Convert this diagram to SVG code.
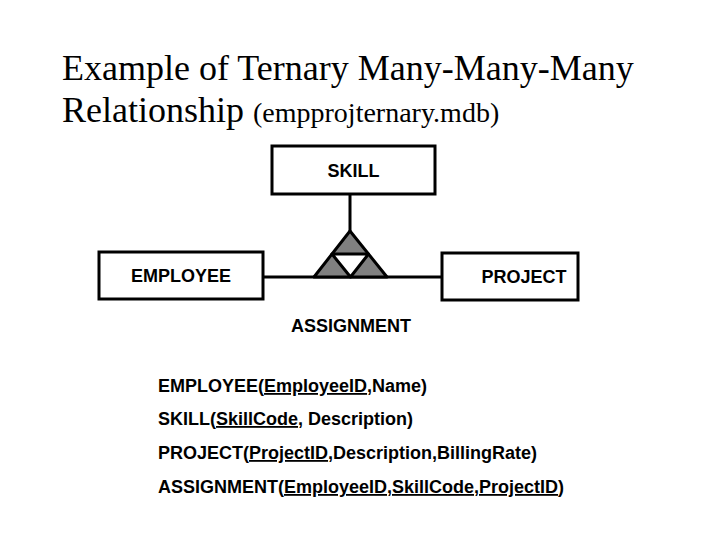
<svg xmlns="http://www.w3.org/2000/svg" width="720" height="540" viewBox="0 0 720 540">
<style>
.box{fill:#fff;stroke:#000;stroke-width:3}
.lbl{font-family:"Liberation Sans",Arial,sans-serif;font-weight:bold;font-size:18px;fill:#000}
.title{font-family:"Liberation Serif","Times New Roman",serif;fill:#000}
.ln{stroke:#000;stroke-width:3;fill:none}
.u{text-decoration:underline}
</style>
<rect width="720" height="540" fill="#fff"/>
<text class="title" x="62" y="80" font-size="36">Example of Ternary Many-Many-Many</text>
<text class="title" x="62" y="122" font-size="36">Relationship <tspan font-size="28">(empprojternary.mdb)</tspan></text>
<g id="connectors">
<line class="ln" x1="350" y1="195" x2="350" y2="231"/>
<line class="ln" x1="263" y1="277" x2="442" y2="277"/>
</g>
<g id="skill"><rect class="box" x="272" y="146" width="163" height="48"/><text class="lbl" x="353.5" y="177" text-anchor="middle">SKILL</text></g>
<g id="employee"><rect class="box" x="99" y="252" width="164" height="47"/><text class="lbl" x="181" y="282" text-anchor="middle">EMPLOYEE</text></g>
<g id="project"><rect class="box" x="442" y="253" width="136" height="47"/><text class="lbl" x="524" y="283" text-anchor="middle">PROJECT</text></g>
<g id="assignment">
<polygon points="350,231 314,277 387,277" fill="#808080" stroke="#000" stroke-width="3" stroke-linejoin="round"/>
<polygon points="332,254 368.5,254 350.5,277" fill="#fff" stroke="#000" stroke-width="3" stroke-linejoin="round"/>
<text class="lbl" x="291" y="332">ASSIGNMENT</text>
</g>
<g id="schema">
<text class="lbl" x="158" y="392">EMPLOYEE(<tspan class="u">EmployeeID</tspan>,Name)</text>
<text class="lbl" x="158" y="425">SKILL(<tspan class="u">SkillCode</tspan>, Description)</text>
<text class="lbl" x="158" y="459">PROJECT(<tspan class="u">ProjectID</tspan>,Description,BillingRate)</text>
<text class="lbl" x="158" y="493">ASSIGNMENT(<tspan class="u">EmployeeID,SkillCode,ProjectID</tspan>)</text>
</g>
</svg>
